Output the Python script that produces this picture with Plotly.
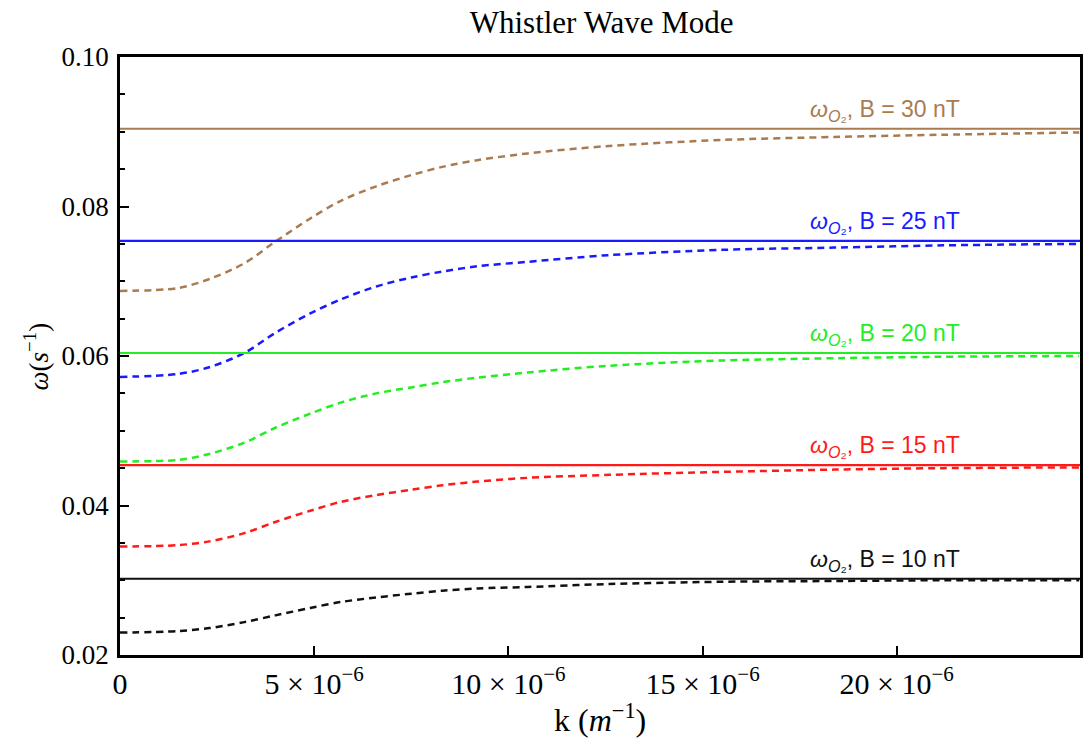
import plotly.graph_objects as go

# ---- data ----
k_um = [0, 1.5, 2.3, 3.2, 4.0, 4.9, 5.7, 6.6, 7.5, 8.3, 9.2, 10.5, 12.6, 15.5, 18.4, 21.2, 24.7]  # x 1e-6 m^-1
B_labels = ["10", "15", "20", "25", "30"]
omega_O2 = [0.0302, 0.0454, 0.0604, 0.0754, 0.0904]
w_B10 = [0.0230, 0.0232, 0.0236, 0.0244, 0.0253, 0.0263, 0.0271, 0.0277, 0.0282, 0.0286, 0.0289, 0.0291, 0.0295, 0.0298, 0.0299, 0.0300, 0.0300]
w_B15 = [0.0345, 0.0347, 0.0352, 0.0363, 0.0378, 0.0393, 0.0405, 0.0414, 0.0421, 0.0427, 0.0432, 0.0437, 0.0441, 0.0445, 0.0448, 0.0450, 0.0451]
w_B20 = [0.0459, 0.0461, 0.0469, 0.0484, 0.0504, 0.0523, 0.0538, 0.0550, 0.0558, 0.0565, 0.0571, 0.0578, 0.0587, 0.0594, 0.0597, 0.0599, 0.0600]
w_B25 = [0.0572, 0.0576, 0.0585, 0.0604, 0.0631, 0.0657, 0.0676, 0.0693, 0.0705, 0.0713, 0.0720, 0.0726, 0.0735, 0.0742, 0.0745, 0.0748, 0.0750]
w_B30 = [0.0687, 0.0691, 0.0703, 0.0724, 0.0753, 0.0784, 0.0808, 0.0827, 0.0842, 0.0853, 0.0862, 0.0871, 0.0881, 0.0889, 0.0893, 0.0896, 0.0899]
x_tick_vals = [0, 5e-6, 10e-6, 15e-6, 20e-6]
x_tick_text = ["0", "5 × 10<sup>−6</sup>", "10 × 10<sup>−6</sup>", "15 × 10<sup>−6</sup>", "20 × 10<sup>−6</sup>"]
y_tick_vals = [0.02, 0.04, 0.06, 0.08, 0.10]
y_tick_text = ["0.02", "0.04", "0.06", "0.08", "0.10"]

colors = ["#111111", "#FF1A1A", "#22EE22", "#1A1AFF", "#A87C50"]
curves = [w_B10, w_B15, w_B20, w_B25, w_B30]

X_MAX = 2.472e-5
k = [v * 1e-6 for v in k_um]

fig = go.Figure()
for c, w in zip(colors, curves):
    fig.add_trace(go.Scatter(x=k, y=w, mode="lines",
                             line=dict(color=c, width=2.5, dash="7px,5px", shape="spline", smoothing=0.9),
                             showlegend=False, hoverinfo="skip"))
for c, lvl in zip(colors, omega_O2):
    fig.add_trace(go.Scatter(x=[0, X_MAX], y=[lvl, lvl], mode="lines", line=dict(color=c, width=2.2),
                             showlegend=False, hoverinfo="skip"))

for c, lvl, b in zip(colors, omega_O2, B_labels):
    fig.add_annotation(x=17.72e-6, y=lvl, xref="x", yref="y", xanchor="left", yanchor="bottom", yshift=2,
                       text=f"<i>ω</i><sub><i>O</i>₂</sub>, B = {b} nT", showarrow=False,
                       font=dict(family="Liberation Sans, Arial", size=23, color=c))

serif = "Liberation Serif, Times New Roman, serif"
fig.add_annotation(x=0.5, y=-0.105, xref="paper", yref="paper", xanchor="center", yanchor="middle",
                   text="k (<i>m</i><sup>−1</sup>)", showarrow=False, font=dict(family=serif, size=32, color="black"))
fig.add_annotation(x=-0.087, y=0.5, xref="paper", yref="paper", xanchor="center", yanchor="middle", textangle=-90,
                   text="<i>ω</i>(<i>s</i><sup>−1</sup>)", showarrow=False, font=dict(family=serif, size=27, color="black"))

fig.update_layout(
    width=1084, height=740,
    margin=dict(l=120, r=1, t=57, b=85),
    paper_bgcolor="white", plot_bgcolor="white",
    title=dict(text="Whistler Wave Mode", x=0.555, xanchor="center", y=0.97, yanchor="middle",
               font=dict(family=serif, size=31, color="black")),
    font=dict(family=serif, size=27, color="black"),
)
fig.update_xaxes(range=[0, X_MAX], tickvals=x_tick_vals, ticktext=x_tick_text, ticks="inside", ticklen=9,
                 tickwidth=2, tickcolor="black", showline=True, linewidth=2.5, linecolor="black", mirror=True,
                 showgrid=False, zeroline=False, tickfont=dict(family=serif, size=30, color="black"))
fig.update_yaxes(range=[0.02, 0.10], tickvals=y_tick_vals, ticktext=y_tick_text, ticks="inside", ticklen=9,
                 tickwidth=2, tickcolor="black", showline=True, linewidth=2.5, linecolor="black", mirror=True,
                 showgrid=False, zeroline=False, ticklabelstandoff=3,
                 minor=dict(dtick=0.005, tick0=0.02, ticks="inside", ticklen=5, tickwidth=1.5, tickcolor="black"),
                 tickfont=dict(family=serif, size=27, color="black"))

fig.write_html("out.html")
